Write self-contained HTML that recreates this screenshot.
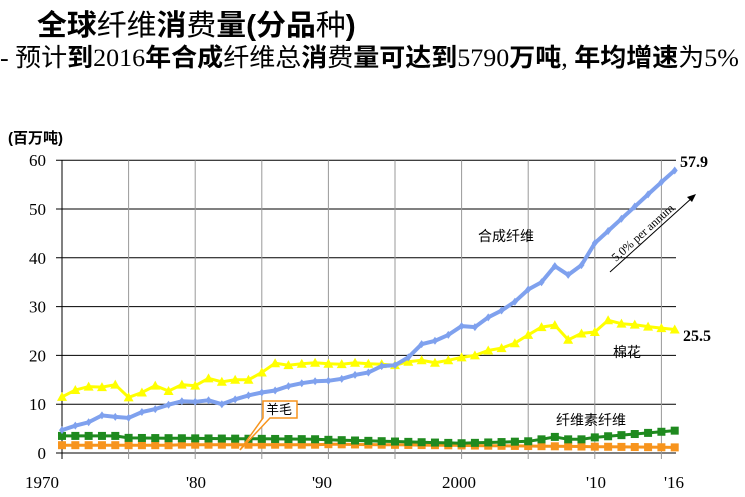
<!DOCTYPE html>
<html><head><meta charset="utf-8"><style>
body{margin:0;background:#fff;width:745px;height:497px;overflow:hidden;font-family:"Liberation Serif","Noto Sans CJK SC",serif}
.t{position:absolute;white-space:nowrap;color:#000}
</style></head><body>
<div class="t" style="left:37px;top:2px;font-size:29px;font-family:'Liberation Sans','Noto Sans CJK SC',sans-serif;font-weight:bold;transform-origin:0 0;transform:scaleX(1.03)">全球<span style="font-weight:normal">纤维</span>消<span style="font-weight:normal">费</span>量(分品<span style="font-weight:normal">种</span>)</div>
<div class="t" style="left:0;top:38px;font-size:25px;transform-origin:0 0;transform:scaleX(1.04)">- 预计<b>到</b>2016<b>年合成</b>纤维总<b>消</b>费<b>量可达到</b>5790<b>万吨</b>, <b>年均增速</b>为5%</div>
<svg width="745" height="497" style="position:absolute;left:0;top:0" id="s" font-family="Liberation Serif, Noto Sans CJK SC, serif"></svg>
<script>
const X=y=>62+(y-1970)*13.32, Y=v=>453-v*4.88;
let h='';
for(let v=0;v<=60;v+=10){h+=`<line x1="56" x2="676" y1="${Y(v)}" y2="${Y(v)}" stroke="#000" stroke-width="1"/>`;
h+=`<text x="46" y="${Y(v)+6}" font-size="17" text-anchor="end">${v}</text>`;}
for(let y=1975;y<=2015;y+=5)h+=`<line x1="${X(y)}" x2="${X(y)}" y1="${Y(60)}" y2="${Y(0)+6}" stroke="#999" stroke-width="1"/>`;
h+=`<line x1="${X(1970)}" x2="${X(1970)}" y1="${Y(60)}" y2="${Y(0)+6}" stroke="#000"/>`;
[[1970,'1970',42],[1980,"'80",196],[1990,"'90",322],[2000,'2000',459],[2010,"'10",596],[2016,"'16",674]].forEach(a=>h+=`<text x="${a[2]}" y="488" font-size="17" text-anchor="middle">${a[1]}</text>`);
h+=`<text x="8" y="143" font-size="15" font-family="Liberation Sans, Noto Sans CJK SC, sans-serif" font-weight="bold">(百万吨)</text>`;
const syn=[4.7,5.6,6.3,7.7,7.4,7.2,8.4,9.0,9.9,10.6,10.5,10.8,10.0,11.0,11.8,12.4,12.8,13.7,14.3,14.7,14.8,15.2,16.0,16.5,17.8,18.0,19.6,22.3,23.0,24.2,26.0,25.8,27.8,29.2,31.0,33.5,35,38.3,36.5,38.5,43,45.5,48,50.5,53,55.5,57.9];
const cot=[11.5,12.9,13.6,13.5,14.0,11.4,12.4,13.8,12.7,14.0,13.8,15.3,14.6,15.0,15.0,16.5,18.4,18.0,18.3,18.5,18.3,18.2,18.5,18.3,18.2,18.0,18.7,19.0,18.5,19.0,19.6,20.0,21.0,21.5,22.5,24.2,25.8,26.2,23.2,24.5,24.8,27.2,26.5,26.3,25.9,25.6,25.3];
const cel=[],wol=[];
for(let i=0;i<47;i++){let y=1970+i;
cel.push(y<1975?3.5:y<1990?3.1-(y-1975)*0.02:y<2000?2.7-(y-1990)*0.07:y<2006?2.0+(y-2000)*0.08:y<2010?2.8+(y==2007?0.5:0):3.2+(y-2010)*0.23);
wol.push(y<1990?1.6+(y>1978?0.1:0):1.8-(y-1990)*0.025);}
function ser(d,col,w,mk){let p=d.map((v,i)=>X(1970+i).toFixed(1)+','+Y(v).toFixed(1)).join(' ');
h+=`<polyline points="${p}" fill="none" stroke="${col}" stroke-width="${w}"/>`;
d.forEach((v,i)=>{let x=X(1970+i),y=Y(v);
if(mk=='t')h+=`<polygon points="${x},${y-5} ${x-5},${y+4} ${x+5},${y+4}" fill="${col}"/>`;
else if(mk=='s')h+=`<rect x="${x-4}" y="${y-4}" width="8" height="8" fill="${col}"/>`;
else h+=`<polygon points="${x},${y-4} ${x+3},${y} ${x},${y+4} ${x-3},${y}" fill="${col}"/>`;});}
ser(wol,'#f7941d',3,'s');ser(cel,'#1f8a1f',3,'s');ser(cot,'#ffff00',3,'t');ser(syn,'#7fa1ee',4,'d');
h+=`<text x="680" y="167" font-size="16" font-weight="bold">57.9</text><text x="683" y="341" font-size="16" font-weight="bold">25.5</text>`;
const cj='font-family="Liberation Sans, Noto Sans CJK SC, sans-serif"';
h+=`<text x="478" y="241" font-size="14" ${cj}>合成纤维</text><text x="613" y="357" font-size="14" ${cj}>棉花</text><text x="556" y="425" font-size="14" ${cj}>纤维素纤维</text>`;
h+=`<line x1="610" y1="272" x2="693" y2="197" stroke="#000"/><polygon points="696,194 687,197 692,202" fill="#000"/>`;
h+=`<text transform="translate(616,262) rotate(-42)" font-size="12">5.0% per annum</text>`;
h+=`<path d="M263,401 H297 V418 H270 L240,450 L263,418 Z" fill="#fff" stroke="#f7941d" stroke-width="1.5"/>`;
h+=`<text x="266" y="414" font-size="13" ${cj}>羊毛</text>`;
document.getElementById('s').innerHTML=h;
</script>
</body></html>
